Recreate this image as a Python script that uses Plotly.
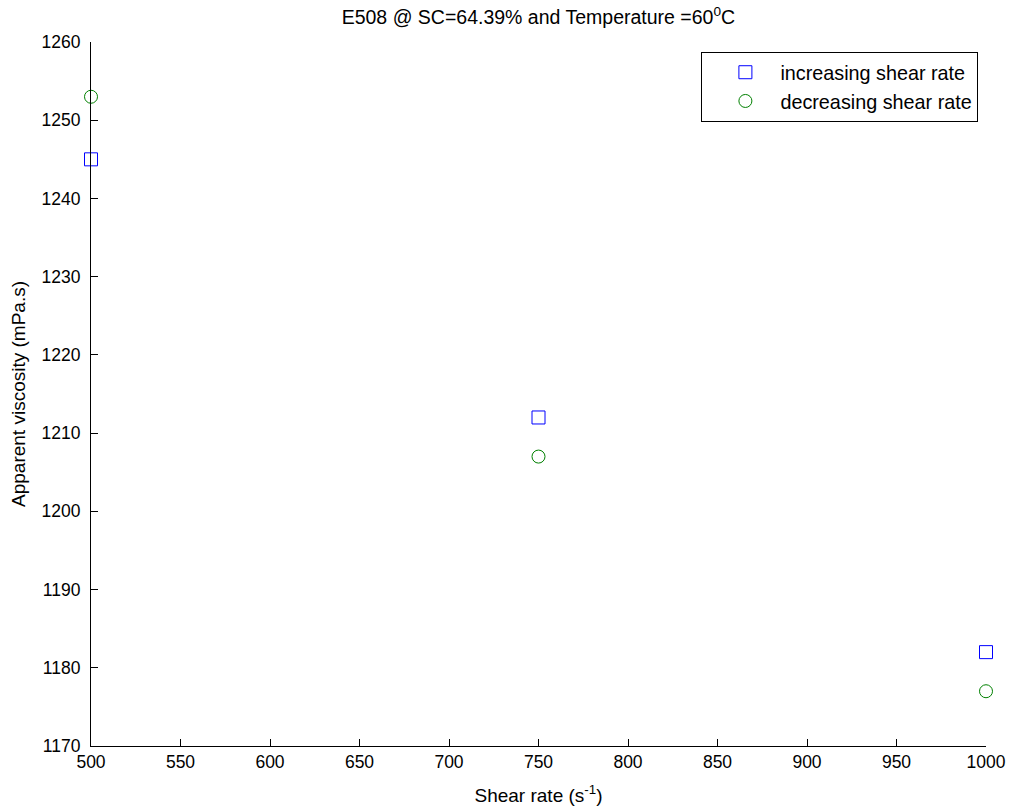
import plotly.graph_objects as go

# Shear rates (1/s) and apparent viscosity readings (mPa.s)
shear_rate = [500, 750, 1000]
visc_increasing = [1245, 1212, 1182]
visc_decreasing = [1253, 1207, 1177]

x_ticks = list(range(500, 1001, 50))
y_ticks = list(range(1170, 1261, 10))

FONT = "Liberation Sans, Arial, sans-serif"

fig = go.Figure()
fig.add_trace(go.Scatter(
    x=shear_rate, y=visc_increasing, mode="markers", name="increasing shear rate",
    marker=dict(symbol="square-open", size=13, color="#0000ff", line=dict(width=1)),
    cliponaxis=False,
))
fig.add_trace(go.Scatter(
    x=shear_rate, y=visc_decreasing, mode="markers", name="decreasing shear rate",
    marker=dict(symbol="circle-open", size=13, color="#008000", line=dict(width=1)),
    cliponaxis=False,
))

axis_common = dict(
    showgrid=False, zeroline=False, showline=True, linecolor="black", linewidth=1,
    ticks="inside", ticklen=7, tickwidth=1, tickcolor="black",
    tickfont=dict(family=FONT, size=17.5, color="black"), mirror=False,
    automargin=False,
)

fig.update_layout(
    width=1013, height=811,
    margin=dict(l=91, r=27, t=42, b=65),
    paper_bgcolor="white", plot_bgcolor="white",
    font=dict(family=FONT, size=17, color="black"),
    title=dict(text="E508 @ SC=64.39% and Temperature =60<sup>0</sup>C",
               x=0.5315, xanchor="center", y=0.987, yanchor="top",
               font=dict(family=FONT, size=19.5, color="black")),
    xaxis=dict(range=[500, 1000], tickvals=x_ticks,
               title=dict(text="Shear rate (s<sup>-1</sup>)", standoff=17,
                          font=dict(family=FONT, size=19)),
               **axis_common),
    yaxis=dict(range=[1170, 1260], tickvals=y_ticks, ticklabelstandoff=6,
               title=dict(text="Apparent viscosity (mPa.s)", standoff=10,
                          font=dict(family=FONT, size=19)),
               **axis_common),
    legend=dict(x=0.9915, xanchor="right", y=0.986, yanchor="top",
                bordercolor="black", borderwidth=1, bgcolor="white",
                font=dict(family=FONT, size=19.8, color="black"),
                itemwidth=60, indentation=8, tracegroupgap=0),
    showlegend=True,
)

fig.write_html("out.html")
